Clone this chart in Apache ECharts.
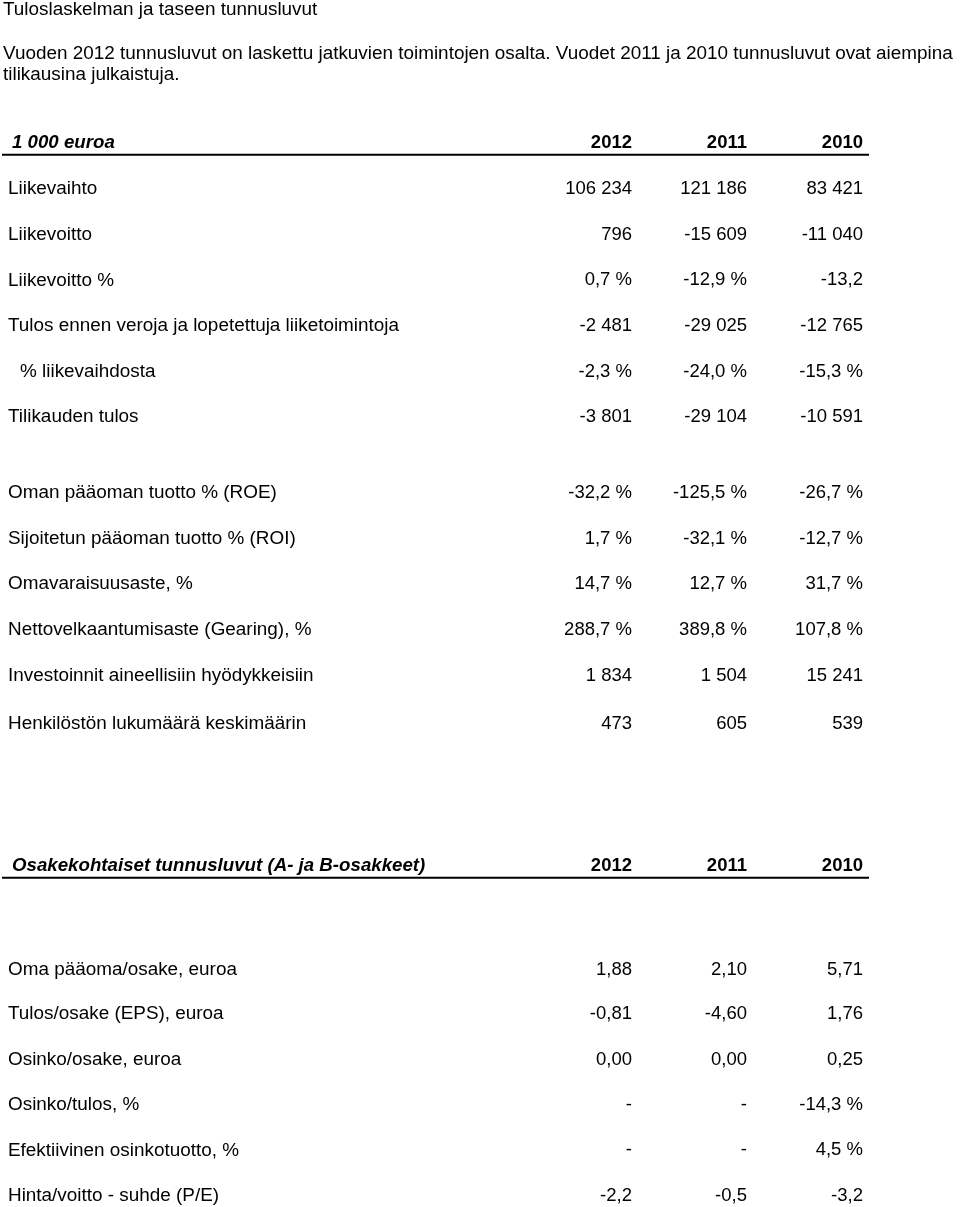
<!DOCTYPE html>
<html>
<head>
<meta charset="utf-8">
<script src="https://cdn.jsdelivr.net/npm/echarts@6/dist/echarts.min.js"></script>
<style>
html,body{margin:0;padding:0;background:#fff;}
#chart{width:960px;height:1207px;}
</style>
</head>
<body>
<div id="chart"></div>
<script>
// ---------- DATA ----------
const pageTitle = 'Tuloslaskelman ja taseen tunnusluvut';
const pageNote = 'Vuoden 2012 tunnusluvut on laskettu jatkuvien toimintojen osalta. Vuodet 2011 ja 2010 tunnusluvut ovat aiempina\ntilikausina julkaistuja.';
const years = ['2012', '2011', '2010'];

const section1Title = '1 000 euroa';
const section1Labels = [
  'Liikevaihto',
  'Liikevoitto',
  'Liikevoitto %',
  'Tulos ennen veroja ja lopetettuja liiketoimintoja',
  '% liikevaihdosta',
  'Tilikauden tulos',
  'Oman pääoman tuotto % (ROE)',
  'Sijoitetun pääoman tuotto % (ROI)',
  'Omavaraisuusaste, %',
  'Nettovelkaantumisaste (Gearing), %',
  'Investoinnit aineellisiin hyödykkeisiin',
  'Henkilöstön lukumäärä keskimäärin'
];
const section1_2012 = ['106 234', '796', '0,7 %', '-2 481', '-2,3 %', '-3 801', '-32,2 %', '1,7 %', '14,7 %', '288,7 %', '1 834', '473'];
const section1_2011 = ['121 186', '-15 609', '-12,9 %', '-29 025', '-24,0 %', '-29 104', '-125,5 %', '-32,1 %', '12,7 %', '389,8 %', '1 504', '605'];
const section1_2010 = ['83 421', '-11 040', '-13,2', '-12 765', '-15,3 %', '-10 591', '-26,7 %', '-12,7 %', '31,7 %', '107,8 %', '15 241', '539'];

const section2Title = 'Osakekohtaiset tunnusluvut (A- ja B-osakkeet)';
const section2Labels = [
  'Oma pääoma/osake, euroa',
  'Tulos/osake (EPS), euroa',
  'Osinko/osake, euroa',
  'Osinko/tulos, %',
  'Efektiivinen osinkotuotto, %',
  'Hinta/voitto - suhde (P/E)'
];
const section2_2012 = ['1,88', '-0,81', '0,00', '-', '-', '-2,2'];
const section2_2011 = ['2,10', '-4,60', '0,00', '-', '-', '-0,5'];
const section2_2010 = ['5,71', '1,76', '0,25', '-14,3 %', '4,5 %', '-3,2'];

// ---------- LAYOUT (positions / styles) ----------
const FONT = "'Liberation Sans', Arial, Helvetica, sans-serif";
const FS = 18.5;      // numbers
const FS_TEXT = 18.9; // labels and titles
const FS_HEAD = 18.7; // bold section headers
const COLOR = '#000';
const labelX = 8;
const indentX = 20;
const indentedRows1 = [4];
const colRightX = [632, 747, 863];
const ruleX = [2, 869];
const section1HeaderY = 143, section1RuleY = 154.7;
const section1RowY = [189.2, 234.6, 280.3, 326, 371.8, 417, 493, 538.5, 584, 630, 676, 723.8];
const section2HeaderY = 866, section2RuleY = 877.7;
const section2RowY = [969.5, 1014, 1059.5, 1105.2, 1150.3, 1196];

// Build table rows for the library
const rows = [];
section1Labels.forEach((l, i) => rows.push({
  label: l, vals: [section1_2012[i], section1_2011[i], section1_2010[i]],
  y: section1RowY[i], indent: indentedRows1.indexOf(i) >= 0
}));
section2Labels.forEach((l, i) => rows.push({
  label: l, vals: [section2_2012[i], section2_2011[i], section2_2010[i]],
  y: section2RowY[i], indent: false
}));
const headers = [
  { title: section1Title, y: section1HeaderY, ruleY: section1RuleY },
  { title: section2Title, y: section2HeaderY, ruleY: section2RuleY }
];

function txt(api, x, y, s, align, extra) {
  const p = api.coord([x, y]);
  return {
    type: 'text',
    x: p[0], y: p[1],
    style: Object.assign({
      text: s, fill: COLOR, fontSize: FS, fontFamily: FONT,
      align: align, verticalAlign: 'middle'
    }, extra || {})
  };
}

const chart = echarts.init(document.getElementById('chart'), null, { renderer: 'canvas' });
chart.setOption({
  animation: false,
  backgroundColor: '#fff',
  title: [
    { text: pageTitle, left: 3, top: 0, padding: 0,
      textStyle: { fontSize: FS_TEXT, fontWeight: 'normal', color: COLOR, fontFamily: FONT, lineHeight: 20 } },
    { text: pageNote, left: 3, top: 43, padding: 0,
      textStyle: { fontSize: FS_TEXT, fontWeight: 'normal', color: COLOR, fontFamily: FONT, lineHeight: 21.5 } }
  ],
  grid: { left: 0, right: 0, top: 0, bottom: 0 },
  xAxis: { type: 'value', min: 0, max: 960, show: false },
  yAxis: { type: 'value', min: 0, max: 1207, inverse: true, show: false },
  series: [
    {
      type: 'custom', silent: true, clip: false,
      data: headers.map((h, i) => [i, 0]),
      renderItem: function (params, api) {
        const h = headers[params.dataIndex];
        const children = [];
        children.push(txt(api, 12, h.y, h.title, 'left', { fontWeight: 'bold', fontStyle: 'italic', fontSize: FS_HEAD }));
        years.forEach((yr, c) => children.push(txt(api, colRightX[c], h.y, yr, 'right', { fontWeight: 'bold' })));
        const a = api.coord([ruleX[0], h.ruleY]), b = api.coord([ruleX[1], h.ruleY]);
        children.push({ type: 'line', shape: { x1: a[0], y1: a[1], x2: b[0], y2: b[1] },
          style: { stroke: COLOR, lineWidth: 2 } });
        return { type: 'group', children: children };
      }
    },
    {
      type: 'custom', silent: true, clip: false,
      data: rows.map((r, i) => [i, 0]),
      renderItem: function (params, api) {
        const r = rows[params.dataIndex];
        const children = [txt(api, r.indent ? indentX : labelX, r.y, r.label, 'left', { fontSize: FS_TEXT })];
        r.vals.forEach((v, c) => children.push(txt(api, colRightX[c], r.y, v, 'right')));
        return { type: 'group', children: children };
      }
    }
  ]
});
</script>
</body>
</html>
